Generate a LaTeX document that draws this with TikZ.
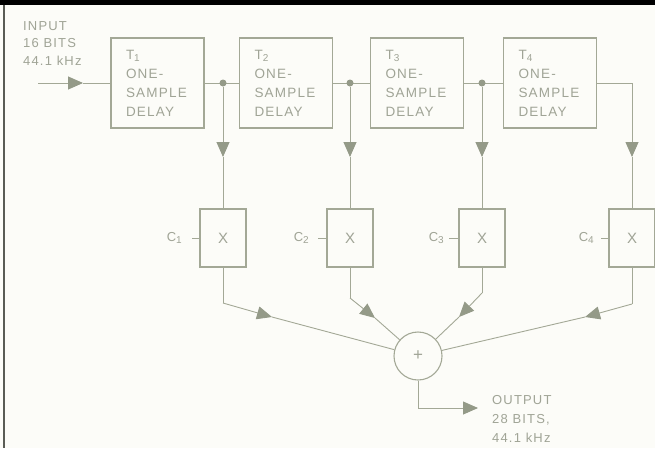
\documentclass[tikz,border=0pt]{standalone}
\usepackage{fontspec}
\setsansfont{Liberation Sans}[LetterSpace=9]
\usetikzlibrary{arrows.meta}
\definecolor{ink}{RGB}{163,168,150}
\definecolor{inkdark}{RGB}{148,154,136}
\definecolor{txt}{RGB}{160,164,150}
\definecolor{paper}{RGB}{252,252,248}
\definecolor{frame}{RGB}{90,92,85}
\newcommand\boxfont{\sffamily\fontsize{13.5}{19}\selectfont}
\newcommand\lblfont{\sffamily\fontsize{13}{17.5}\selectfont}
\newcommand\outfont{\sffamily\fontsize{13}{19}\selectfont}
\newcommand\subdig[1]{\raisebox{-2.5pt}{\fontsize{10}{10}\selectfont #1}}
\begin{document}
\begin{tikzpicture}[x=1pt,y=-1pt,
  line/.style={draw=ink, line width=0.9pt},
  arr/.style={line, -{Triangle[length=15pt,width=13pt,color=inkdark]}},
  delaybox/.style={draw=ink, line width=1.1pt, minimum width=93pt, minimum height=90pt,
    text width=63pt, inner xsep=15pt, inner ysep=0pt, align=left, font=\boxfont, text=txt},
  mulbox/.style={draw=ink, line width=1.1pt, minimum width=46pt, minimum height=58pt,
    inner sep=0pt, font=\sffamily\fontsize{15}{15}\selectfont, text=txt},
  lbl/.style={text=txt, inner sep=0pt, align=left},
  jdot/.style={circle, fill=inkdark, inner sep=0pt, minimum size=7pt},
]
\useasboundingbox (0,0) rectangle (655,448);
\fill[paper] (0,0) rectangle (655,448);
\fill[black] (0,0) rectangle (655,5);
\draw[frame, line width=1.6pt] (4,5) -- (4,448);

% delay boxes
\node[delaybox] (T1) at (157.5,83) {T\subdig{1}\\ONE-\\SAMPLE\\DELAY};
\node[delaybox] (T2) at (286,83) {T\subdig{2}\\ONE-\\SAMPLE\\DELAY};
\node[delaybox] (T3) at (417,83) {T\subdig{3}\\ONE-\\SAMPLE\\DELAY};
\node[delaybox] (T4) at (550,83) {T\subdig{4}\\ONE-\\SAMPLE\\DELAY};

% input
\node[lbl, font=\lblfont, anchor=north west] (inlbl) at (23,21) {INPUT\\16 BITS\\44.1 kHz};
\coordinate (in) at (38,83);
\coordinate (inarr) at (83,83);
\draw[arr] (in) -- (inarr);
\draw[line] (inarr) -- (T1.west);

% chain
\draw[line] (T1.east) -- (T2.west);
\draw[line] (T2.east) -- (T3.west);
\draw[line] (T3.east) -- (T4.west);
\coordinate (k4) at (632,83);
\draw[line] (T4.east) -- (k4);
\node[jdot] (j1) at (223,83) {};
\node[jdot] (j2) at (350,83) {};
\node[jdot] (j3) at (482,83) {};

% multipliers
\node[mulbox] (X1) at (223,238) {X};
\node[mulbox] (X2) at (350,238) {X};
\node[mulbox] (X3) at (482,238) {X};
\node[mulbox] (X4) at (632,238) {X};

\coordinate (d1) at (223,157);
\coordinate (d2) at (350,157);
\coordinate (d3) at (482,157);
\coordinate (d4) at (632,157);
\draw[arr] (j1) -- (d1); \draw[line] (d1) -- (X1.north);
\draw[arr] (j2) -- (d2); \draw[line] (d2) -- (X2.north);
\draw[arr] (j3) -- (d3); \draw[line] (d3) -- (X3.north);
\draw[arr] (k4) -- (d4); \draw[line] (d4) -- (X4.north);

% coefficients
\node[lbl, font=\lblfont, anchor=east] (C1) at (182,238) {C\subdig{1}};
\node[lbl, font=\lblfont, anchor=east] (C2) at (309,238) {C\subdig{2}};
\node[lbl, font=\lblfont, anchor=east] (C3) at (444,238) {C\subdig{3}};
\node[lbl, font=\lblfont, anchor=east] (C4) at (594,238) {C\subdig{4}};
\coordinate (t1) at (192,238);
\coordinate (t2) at (318,238);
\coordinate (t3) at (449,238);
\coordinate (t4) at (601,238);
\draw[line] (t1) -- (X1.west);
\draw[line] (t2) -- (X2.west);
\draw[line] (t3) -- (X3.west);
\draw[line] (t4) -- (X4.west);

% adder
\node[circle, draw=ink, line width=1.1pt, minimum size=48pt, inner sep=0pt,
  text=txt, font=\sffamily\fontsize{17}{17}\selectfont] (S) at (418,356) {+};

\coordinate (b1) at (223,303); \coordinate (m1) at (272,317);
\coordinate (b2) at (350,298); \coordinate (m2) at (375,318);
\coordinate (b3) at (482,293); \coordinate (m3) at (459,317);
\coordinate (b4) at (632,304); \coordinate (m4) at (585,317);
\draw[line] (X1.south) -- (b1); \draw[arr] (b1) -- (m1); \draw[line] (m1) -- (S);
\draw[line] (X2.south) -- (b2); \draw[arr] (b2) -- (m2); \draw[line] (m2) -- (S);
\draw[line] (X3.south) -- (b3); \draw[arr] (b3) -- (m3); \draw[line] (m3) -- (S);
\draw[line] (X4.south) -- (b4); \draw[arr] (b4) -- (m4); \draw[line] (m4) -- (S);

% output
\coordinate (o1) at (418,408);
\coordinate (o2) at (478,408);
\draw[line] (S.south) -- (o1);
\draw[arr] (o1) -- (o2);
\node[lbl, font=\outfont, anchor=north west] (outlbl) at (492,395) {OUTPUT\\28 BITS,\\44.1 kHz};
\end{tikzpicture}
\end{document}
